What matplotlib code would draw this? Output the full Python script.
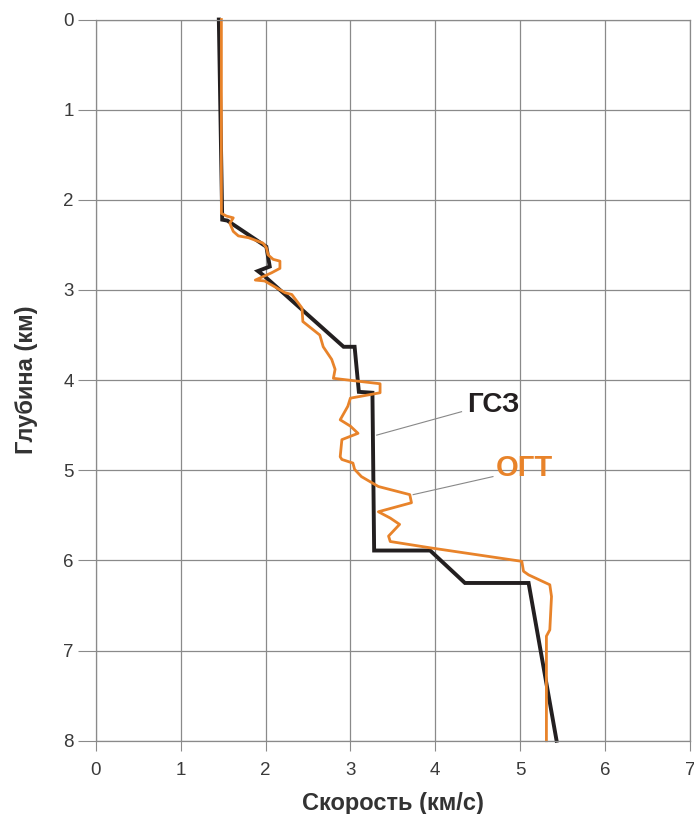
import numpy as np
import matplotlib
matplotlib.use('Agg')
import matplotlib.pyplot as plt

plt.rcParams['font.family'] = ['Liberation Sans', 'DejaVu Sans']

# ГСЗ (глубинное сейсмическое зондирование): скорость (км/с) по глубине (км)
gsz_depth = [0, 2.22, 2.23, 2.52, 2.74, 2.79, 2.84, 3.63, 3.63, 4.13, 4.14, 5.89, 5.89, 6.25, 6.25, 8.0]
gsz_vel = [1.45, 1.49, 1.55, 2.01, 2.05, 1.91, 1.98, 2.92, 3.05, 3.10, 3.26, 3.28, 3.94, 4.35, 5.10, 5.43]

# ОГТ
ogt_depth = [0, 2.15, 2.18, 2.20, 2.26, 2.35, 2.40, 2.42, 2.48, 2.53, 2.61, 2.66, 2.68, 2.76,
             2.81, 2.89, 2.90, 3.03, 3.05, 3.20, 3.35, 3.50, 3.63, 3.77, 3.88, 3.98, 4.04,
             4.14, 4.20, 4.29, 4.44, 4.51, 4.59, 4.66, 4.85, 4.88, 4.92, 4.99, 5.07, 5.18,
             5.27, 5.36, 5.46, 5.53, 5.60, 5.73, 5.79, 5.86, 6.01, 6.12, 6.16, 6.27, 6.40,
             6.77, 6.84, 8.0]
ogt_vel = [1.48, 1.48, 1.54, 1.62, 1.58, 1.62, 1.68, 1.80, 1.97, 2.01, 2.03, 2.09, 2.17, 2.17,
           2.07, 1.88, 1.99, 2.23, 2.31, 2.43, 2.44, 2.64, 2.68, 2.78, 2.82, 2.80, 3.35,
           3.35, 3.00, 2.97, 2.88, 3.00, 3.09, 2.90, 2.88, 2.90, 3.03, 3.05, 3.13, 3.33,
           3.70, 3.72, 3.33, 3.47, 3.58, 3.45, 3.47, 3.94, 5.02, 5.04, 5.10, 5.35, 5.37,
           5.35, 5.31, 5.31]

x_ticks = [0, 1, 2, 3, 4, 5, 6, 7]
y_ticks = [0, 1, 2, 3, 4, 5, 6, 7, 8]

fig = plt.figure(figsize=(6.94, 8.14), dpi=100)
ax = fig.add_axes([0.138, 0.090, 0.856, 0.886])

grid_col = '#8a8a8a'
ax.set_xlim(0, 7)
ax.set_ylim(8, 0)
ax.set_xticks(x_ticks)
ax.set_yticks(y_ticks)
ax.grid(True, color=grid_col, linewidth=0.9)
ax.set_axisbelow(True)
for s in ax.spines.values():
    s.set_color(grid_col)
    s.set_linewidth(0.9)
ax.tick_params(axis='x', length=7, color=grid_col, labelsize=13.5, labelcolor='#3a3a3a', pad=8)
ax.tick_params(axis='y', length=13, color=grid_col, labelsize=13.5, labelcolor='#3a3a3a', pad=3)

ax.plot(gsz_vel, gsz_depth, color='#231f20', linewidth=2.8, solid_joinstyle='miter', clip_on=False)
ax.plot(ogt_vel, ogt_depth, color='#e8832a', linewidth=2.0, clip_on=False)

# выноски
ax.plot([3.31, 4.31], [4.61, 4.35], color='#888888', linewidth=0.8)
ax.plot([3.74, 4.68], [5.27, 5.07], color='#888888', linewidth=0.8)
ax.text(4.69, 4.28, 'ГСЗ', fontsize=20, fontweight='bold', color='#231f20',
        ha='center', va='center')
ax.text(5.05, 4.97, 'ОГТ', fontsize=21, fontweight='bold', color='#e8832a',
        ha='center', va='center')

ax.set_xlabel('Скорость (км/с)', fontsize=17, fontweight='bold', color='#333333', labelpad=10)
ax.set_ylabel('Глубина (км)', fontsize=17, fontweight='bold', color='#333333', labelpad=18)

fig.savefig('out.png', dpi=100)
